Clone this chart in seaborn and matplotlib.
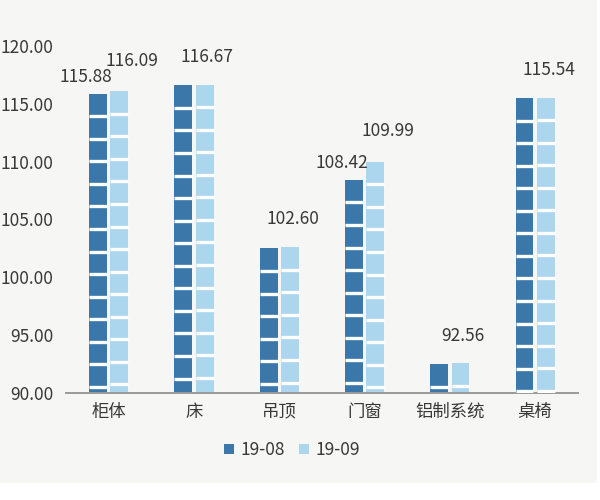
import matplotlib
matplotlib.use("Agg")
import matplotlib.pyplot as plt
import pandas as pd
import seaborn as sns
from matplotlib.patches import Rectangle

# data
categories = ["柜体", "床", "吊顶", "门窗", "铝制系统", "桌椅"]
series = ["19-08", "19-09"]
values_0908 = [115.88, 116.60, 102.50, 108.42, 92.50, 115.50]
values_0909 = [116.09, 116.67, 102.60, 109.99, 92.56, 115.54]
# labels the original shows (some 19-08 labels hidden because of overlap)
labels_0908 = ["115.88", "", "", "108.42", "", ""]
labels_0909 = ["116.09", "116.67", "102.60", "109.99", "92.56", "115.54"]
y_ticks = [90, 95, 100, 105, 110, 115, 120]

colors = ["#3b78a9", "#acd5ee"]
bg = "#f6f7f5"
text_color = "#383838"
block_step = 1.95  # height of one block of the bar pattern, in data units

sns.set_theme(style="white")
plt.rcParams["font.family"] = ["Noto Sans CJK SC", "DejaVu Sans"]

df = pd.DataFrame(
    {
        "category": categories * 2,
        "series": [series[0]] * len(categories) + [series[1]] * len(categories),
        "value": values_0908 + values_0909,
        "label": labels_0908 + labels_0909,
    }
)

fig = plt.figure(figsize=(6, 5), dpi=100, facecolor=bg)
fig.patches.append(Rectangle((0, 0), 1, 17 / 500, transform=fig.transFigure, color="white", zorder=0))
fig.patches.append(Rectangle((597 / 600, 0), 3 / 600, 1, transform=fig.transFigure, color="white", zorder=0))
ax = fig.add_axes([0.11, 0.214, 0.853, 0.694])
ax.set_facecolor(bg)

sns.barplot(
    data=df,
    x="category",
    y="value",
    hue="series",
    palette=colors,
    saturation=1,
    width=0.5,
    gap=0.16,
    linewidth=0,
    edgecolor="none",
    ax=ax,
    legend=True,
)
ax.set_ylim(90, 120)
ax.set_xlim(-0.5, len(categories) - 0.5)

# block pattern: white cuts going down from the top of each bar
bars = [p for p in ax.patches if p.get_height() > 0]
for bar in bars:
    x0 = bar.get_x()
    x1 = x0 + bar.get_width()
    top = bar.get_y() + bar.get_height()
    cut = top - block_step
    while cut > 90:
        ax.hlines(cut, x0, x1, color="white", linewidth=2.4, capstyle="butt", zorder=3)
        cut -= block_step

# value labels
for container, hue_name in zip(ax.containers, series):
    sub = df[df["series"] == hue_name].reset_index(drop=True)
    for i, bar in enumerate(container):
        text = sub.loc[i, "label"]
        if not text:
            continue
        cx = bar.get_x() + bar.get_width() / 2
        top = bar.get_y() + bar.get_height()
        both = bool(labels_0908[i]) and bool(labels_0909[i])
        if both and hue_name == series[0]:
            ha, dx, dy = "right", 10, 12
        elif both:
            ha, dx, dy = "left", -10, 22
        else:
            ha, dx, dy = "center", 2, 20
        ax.annotate(
            text,
            (cx, top),
            xytext=(dx, dy),
            textcoords="offset points",
            ha=ha,
            va="center",
            fontsize=12.5,
            color=text_color,
        )

ax.set_yticks(y_ticks)
ax.set_yticklabels([f"{v:.2f}" for v in y_ticks])
ax.tick_params(axis="both", length=0, labelsize=12.5, colors=text_color)
ax.tick_params(axis="y", pad=9)
ax.tick_params(axis="x", pad=7)
ax.set_xlabel("")
ax.set_ylabel("")
for side in ["left", "right", "top"]:
    ax.spines[side].set_visible(False)
ax.spines["bottom"].set_color("#9a9a9a")
ax.spines["bottom"].set_linewidth(1.4)

handles, names = ax.get_legend_handles_labels()
ax.legend(
    handles,
    names,
    loc="center",
    bbox_to_anchor=(0.487, 0.1),
    bbox_transform=fig.transFigure,
    ncol=2,
    frameon=False,
    fontsize=12.5,
    handlelength=0.55,
    handleheight=0.55,
    handletextpad=0.4,
    columnspacing=0.8,
    labelcolor=text_color,
)

fig.savefig("out.png", dpi=100, facecolor=fig.get_facecolor())
